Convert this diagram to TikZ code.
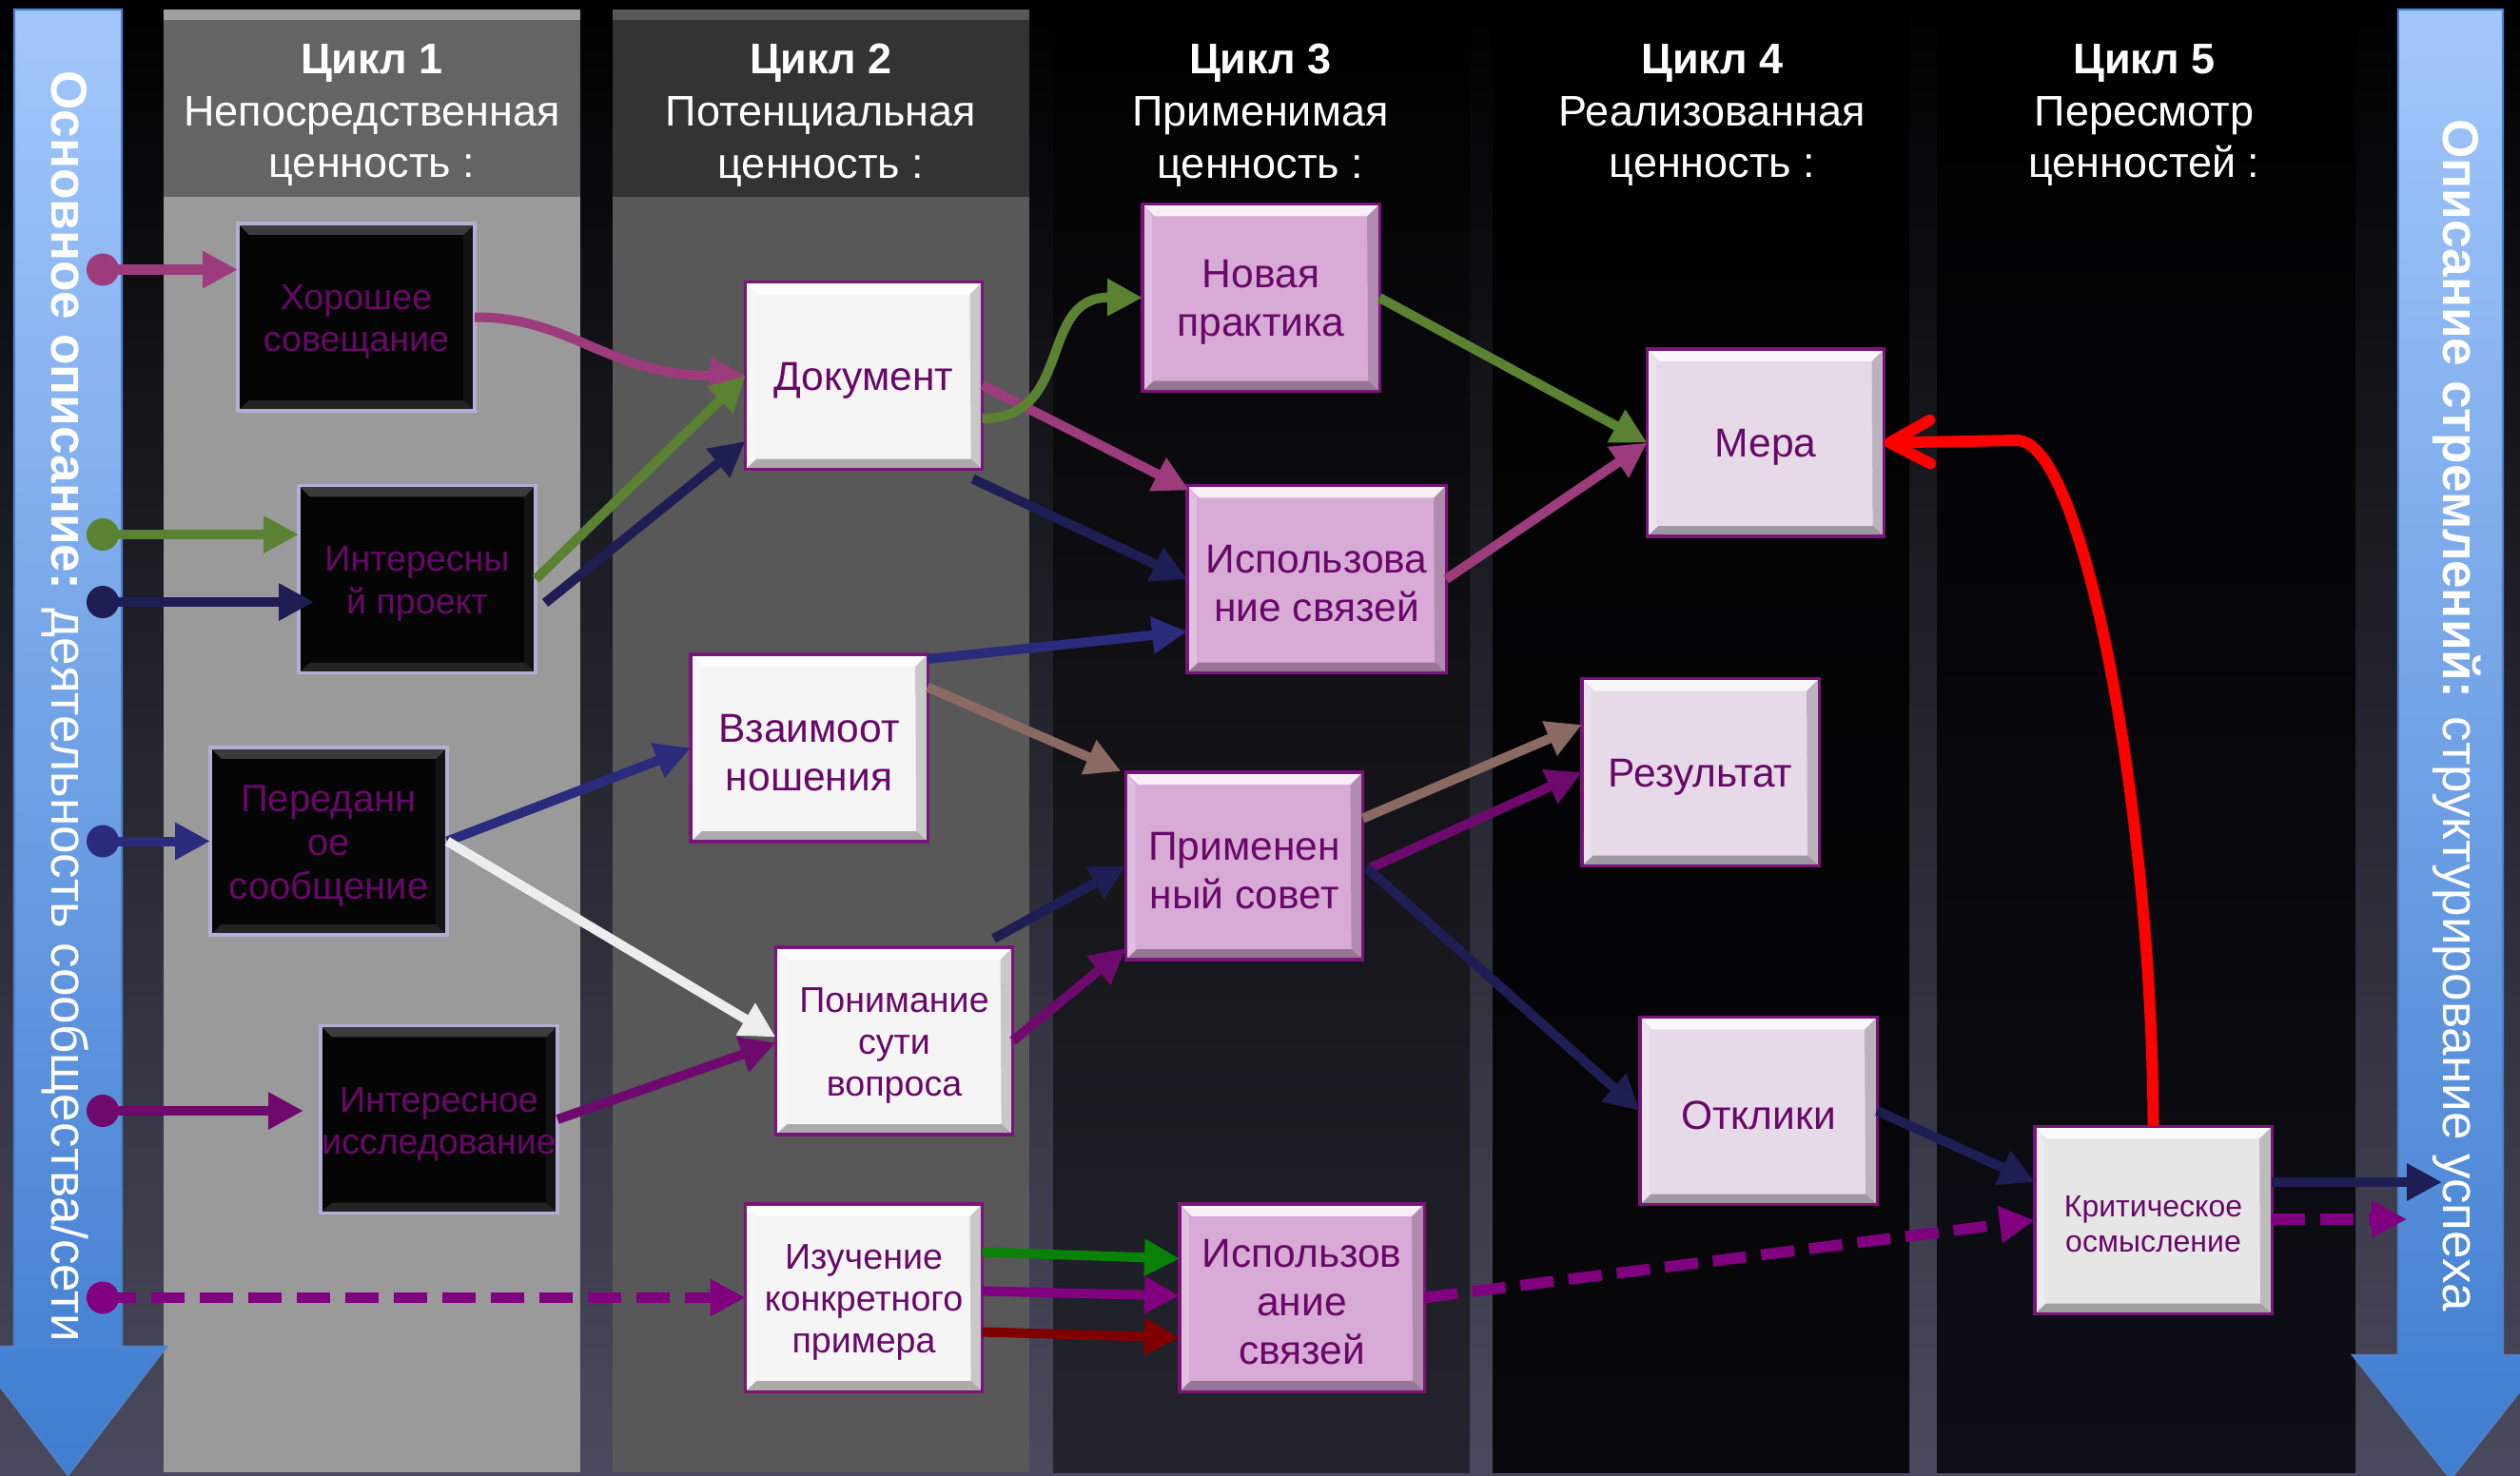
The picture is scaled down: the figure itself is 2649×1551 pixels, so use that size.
\documentclass[tikz,border=0pt]{standalone}
\usepackage{fontspec}
\setmainfont{Liberation Sans}
\usetikzlibrary{arrows.meta,calc}
\definecolor{bgbot}{HTML}{4A4A5E}
\definecolor{hdrA}{HTML}{646464}
\definecolor{stripA}{HTML}{A0A0A0}
\definecolor{bodyA}{HTML}{9A9A9A}
\definecolor{hdrB}{HTML}{333333}
\definecolor{stripB}{HTML}{575757}
\definecolor{bodyB}{HTML}{585858}
\definecolor{colC}{HTML}{24242E}
\definecolor{colD}{HTML}{08080B}
\definecolor{colE}{HTML}{0E0E17}
\definecolor{blueTop}{HTML}{A2C7FB}
\definecolor{blueBot}{HTML}{3F7DD0}
\definecolor{blueEdge}{HTML}{4F80C8}
\definecolor{txtp}{HTML}{680868}
\definecolor{boxedge}{HTML}{7A147A}
\definecolor{lav}{HTML}{B4AED6}
\definecolor{fwhite}{HTML}{F5F5F5}
\definecolor{fpink}{HTML}{D8AAD6}
\definecolor{flpink}{HTML}{E6DAE8}
\definecolor{fgray}{HTML}{E6E6E6}
\definecolor{fblack}{HTML}{050505}
\definecolor{cmag}{HTML}{9C3C7C}
\definecolor{colive}{HTML}{5A8232}
\definecolor{cnavy}{HTML}{1E1E55}
\definecolor{cblue}{HTML}{2B2B7E}
\definecolor{cpurp}{HTML}{6E0A6E}
\definecolor{cpurpd}{HTML}{800080}
\definecolor{crose}{HTML}{8C6A64}
\definecolor{clgray}{HTML}{EDEDED}
\definecolor{cgreen}{HTML}{0A820A}
\definecolor{cdred}{HTML}{800000}
\definecolor{cred}{HTML}{FF0000}
\begin{document}
\begin{tikzpicture}[x=0.01cm,y=-0.01cm,
  bevlight/.style={path picture={
    \coordinate (pNW) at (path picture bounding box.north west);
    \coordinate (pNE) at (path picture bounding box.north east);
    \coordinate (pSW) at (path picture bounding box.south west);
    \coordinate (pSE) at (path picture bounding box.south east);
    \fill[white,opacity=0.8] (pNW) -- (pNE) -- ($(pNE)+(-13,13)$) -- ($(pNW)+(13,13)$) -- cycle;
    \fill[black,opacity=0.3] (pSW) -- (pSE) -- ($(pSE)+(-12,-11)$) -- ($(pSW)+(12,-11)$) -- cycle;
    \fill[black,opacity=0.18] (pNE) -- (pSE) -- ($(pSE)+(-12,-11)$) -- ($(pNE)+(-13,13)$) -- cycle;
    \fill[white,opacity=0.25] (pNW) -- (pSW) -- ($(pSW)+(10,-11)$) -- ($(pNW)+(10,13)$) -- cycle;
  }},
  bevdark/.style={path picture={
    \coordinate (pNW) at (path picture bounding box.north west);
    \coordinate (pNE) at (path picture bounding box.north east);
    \coordinate (pSW) at (path picture bounding box.south west);
    \coordinate (pSE) at (path picture bounding box.south east);
    \fill[white,opacity=0.22] (pNW) -- (pNE) -- ($(pNE)+(-12,12)$) -- ($(pNW)+(12,12)$) -- cycle;
    \fill[white,opacity=0.12] (pSW) -- (pSE) -- ($(pSE)+(-12,-11)$) -- ($(pSW)+(12,-11)$) -- cycle;
    \fill[white,opacity=0.06] (pNE) -- (pSE) -- ($(pSE)+(-12,-11)$) -- ($(pNE)+(-12,12)$) -- cycle;
  }},
  boxbase/.style={draw=boxedge, line width=0.9pt, inner sep=0pt, outer sep=0pt,
    minimum width=2.49cm, minimum height=1.97cm},
  blkbox/.style={boxbase, draw=lav, fill=fblack, bevdark},
  whbox/.style={boxbase, fill=fwhite, bevlight},
  pkbox/.style={boxbase, fill=fpink, bevlight},
  lpbox/.style={boxbase, fill=flpink, bevlight},
  grbox/.style={boxbase, fill=fgray, bevlight},
  btxt/.style={align=center, text=txtp, inner sep=0pt, font=\fontsize{12.1}{14.5}\selectfont},
  stxt/.style={btxt, font=\fontsize{10.7}{12.6}\selectfont},
  hdr/.style={align=center, text=white, inner sep=0pt, font=\fontsize{12.8}{15.6}\selectfont},
  vtxt/.style={rotate=-90, text=white, inner sep=0pt, font=\fontsize{15.1}{18}\selectfont},
  arr/.style={line width=2.85pt, -{Triangle[length=10.5pt,width=10.5pt]}},
  dsh/.style={line width=3.3pt, dash pattern=on 10pt off 4.5pt, -{Triangle[length=10.5pt,width=10.5pt]}},
  redarr/.style={draw=cred, line width=3.4pt, -{Straight Barb[length=12pt,width=13pt,round]}}
]
\useasboundingbox (0,0) rectangle (2649,1551);
% background
\shade[top color=black, bottom color=bgbot] (0,0) rectangle (2649,1551);
% column 1
\fill[stripA] (172,10) rectangle (610,21);
\fill[hdrA] (172,21) rectangle (610,207);
\fill[bodyA] (172,207) rectangle (610,1548);
% column 2
\fill[stripB] (644,10) rectangle (1082,21);
\fill[hdrB] (644,21) rectangle (1082,207);
\fill[bodyB] (644,207) rectangle (1082,1548);
% columns 3-5
\shade[top color=black, bottom color=colC] (1107,10) rectangle (1545,1548);
\shade[top color=black, bottom color=colD] (1569,10) rectangle (2007,1548);
\shade[top color=black, bottom color=colE] (2036,10) rectangle (2476,1548);
% headers
\node[hdr] (h1) at (391,121) {\textbf{Цикл 1}\\Непосредственная\\ценность :};
\node[hdr] (h2) at (863,121) {\textbf{Цикл 2}\\Потенциальная\\ценность :};
\node[hdr] (h3) at (1325,121) {\textbf{Цикл 3}\\Применимая\\ценность :};
\node[hdr] (h4) at (1800,121) {\textbf{Цикл 4}\\Реализованная\\ценность :};
\node[hdr] (h5) at (2254,121) {\textbf{Цикл 5}\\Пересмотр\\ценностей :};
% blue arrows
\shade[top color=blueTop, bottom color=blueBot, draw=blueEdge, line width=0.6pt]
  (15,10) -- (128,10) -- (128,1416) -- (175,1416) -- (71.5,1551) -- (-32,1416) -- (15,1416) -- cycle;
\shade[top color=blueTop, bottom color=blueBot, draw=blueEdge, line width=0.6pt]
  (2521,10) -- (2631,10) -- (2631,1425) -- (2679,1425) -- (2576,1555) -- (2473,1425) -- (2521,1425) -- cycle;
\node[vtxt] (ltxt) at (69,743) {\textbf{Основное описание:} деятельность сообщества/сети};
\node[vtxt] (rtxt) at (2583,752) {\textbf{Описание стремлений:} структурирование успеха};
% boxes column 1
\node[blkbox] (hor) at (374.5,333.5) {};
\node[blkbox] (int) at (438.5,609) {};
\node[blkbox] (per) at (345.5,884.5) {};
\node[blkbox] (iss) at (461.5,1177) {};
\node[stxt] (hor-t) at ($(hor.center)+(0,5)$) {Хорошее\\совещание};
\node[stxt] (int-t) at ($(int.center)+(0,5)$) {Интересны\\й проект};
\node[btxt, font=\fontsize{11.4}{13.1}\selectfont] (per-t) at ($(per.center)+(0,5)$) {Переданн\\ое\\сообщение};
\node[stxt] (iss-t) at ($(iss.center)+(0,5)$) {Интересное\\исследование};
% column 2
\node[whbox] (doc) at (908,395) {};
\node[whbox] (vza) at (850.5,786.5) {};
\node[whbox] (pon) at (940,1094.5) {};
\node[whbox] (izu) at (908,1364.5) {};
\node[btxt] (doc-t) at ($(doc.center)+(0,5)$) {Документ};
\node[btxt] (vza-t) at ($(vza.center)+(0,5)$) {Взаимоот\\ношения};
\node[stxt] (pon-t) at ($(pon.center)+(0,5)$) {Понимание\\сути\\вопроса};
\node[stxt] (izu-t) at ($(izu.center)+(0,5)$) {Изучение\\конкретного\\примера};
% column 3
\node[pkbox] (nov) at (1325.5,313) {};
\node[pkbox, minimum width=2.72cm] (isp1) at (1384,609) {};
\node[pkbox] (pri) at (1308,910.5) {};
\node[pkbox, minimum width=2.57cm] (isp2) at (1368.5,1364.5) {};
\node[btxt] (nov-t) at ($(nov.center)+(0,5)$) {Новая\\практика};
\node[btxt] (isp1-t) at ($(isp1.center)+(0,5)$) {Использова\\ние связей};
\node[btxt] (pri-t) at ($(pri.center)+(0,5)$) {Применен\\ный совет};
\node[btxt] (isp2-t) at ($(isp2.center)+(0,5)$) {Использов\\ание\\связей};
% column 4
\node[lpbox] (mera) at (1856,465.5) {};
\node[lpbox] (res) at (1787.5,812) {};
\node[lpbox] (otk) at (1848.5,1168) {};
\node[btxt] (mera-t) at ($(mera.center)+(0,5)$) {Мера};
\node[btxt] (res-t) at ($(res.center)+(0,5)$) {Результат};
\node[btxt] (otk-t) at ($(otk.center)+(0,5)$) {Отклики};
% column 5
\node[grbox] (krit) at (2263.5,1283) {};
\node[btxt, font=\fontsize{9.1}{10.6}\selectfont] (krit-t) at ($(krit.center)+(0,4)$) {Критическое\\осмысление};
% start dots and free ends
\coordinate (d1) at (108,283.5);
\coordinate (d2) at (108,562);
\coordinate (d3) at (108,633);
\coordinate (d4) at (108,884.5);
\coordinate (d5) at (108,1168);
\coordinate (d6) at (108,1364.5);
\coordinate (r1) at (2567,1243);
\coordinate (r2) at (2530,1282);
% connectors from the left bar
\draw[arr,cmag] (d1) -- ($(hor.west)+(0,-50)$);
\draw[arr,colive] (d2) -- ($(int.west)+(0,-47)$);
\draw[arr,cnavy] (d3) -- ($(int.west)+(16,24)$);
\draw[arr,cblue] (d4) -- (per.west);
\draw[arr,cpurp] (d5) -- ($(iss.west)+(-18,-9)$);
\draw[dsh,cpurpd] (d6) -- (izu.west);
\fill[cmag] (d1) circle (0.17cm);
\fill[colive] (d2) circle (0.17cm);
\fill[cnavy] (d3) circle (0.17cm);
\fill[cblue] (d4) circle (0.17cm);
\fill[cpurp] (d5) circle (0.17cm);
\fill[cpurpd] (d6) circle (0.17cm);
% box to box connectors
\draw[arr,cmag] (hor.east) .. controls (600,333) and (640,395) .. (doc.west);
\draw[arr,colive] (int.east) -- (doc.west);
\draw[arr,cnavy] ($(int.east)+(10,25)$) -- ($(doc.west)+(0,69)$);
\draw[arr,cmag] ($(doc.east)+(0,10)$) -- ($(isp1.north west)+(2,5)$);
\draw[arr,colive] ($(doc.east)+(0,45)$) .. controls (1130,440) and (1090,312) .. (nov.west);
\draw[arr,cnavy] ($(doc.south east)+(-10,10)$) -- (isp1.west);
\draw[arr,cmag] (isp1.east) -- (mera.west);
\draw[arr,colive] (nov.east) -- (mera.west);
\draw[redarr] (krit.north) .. controls (2262,850) and (2190,462) .. (2120,463) -- (mera.east);
\draw[arr,crose] ($(vza.east)+(0,-64)$) -- ($(pri.north west)+(-5,-1)$);
\draw[arr,cblue] ($(vza.north east)+(0,5)$) -- ($(isp1.west)+(0,55)$);
\draw[arr,cblue] (per.east) -- (vza.west);
\draw[arr,clgray] (per.east) -- ($(pon.west)+(0,-4)$);
\draw[arr,cpurp] (iss.east) -- ($(pon.west)+(0,2)$);
\draw[arr,cnavy] ($(pon.north east)+(-20,-9)$) -- (pri.west);
\draw[arr,cpurp] (pon.east) -- ($(pri.south west)+(0,-12)$);
\draw[arr,crose] ($(pri.east)+(0,-50)$) -- ($(res.west)+(0,-50)$);
\draw[arr,cpurp] ($(pri.east)+(8,2)$) -- (res.west);
\draw[arr,cnavy] ($(pri.east)+(4,2)$) -- (otk.west);
\draw[arr,cnavy] (otk.east) -- ($(krit.west)+(0,-40)$);
\draw[arr,cnavy] ($(krit.east)+(0,-40)$) -- (r1);
\draw[dsh,cpurpd] ($(krit.east)+(0,-1)$) -- (r2);
\draw[dsh,cpurpd] (isp2.east) -- (krit.west);
\draw[arr,cgreen] ($(izu.east)+(0,-48)$) -- ($(isp2.west)+(0,-41)$);
\draw[arr,cpurpd] ($(izu.east)+(0,-7)$) -- ($(isp2.west)+(0,-2)$);
\draw[arr,cdred] ($(izu.east)+(0,36)$) -- ($(isp2.west)+(0,42)$);
\end{tikzpicture}
\end{document}
